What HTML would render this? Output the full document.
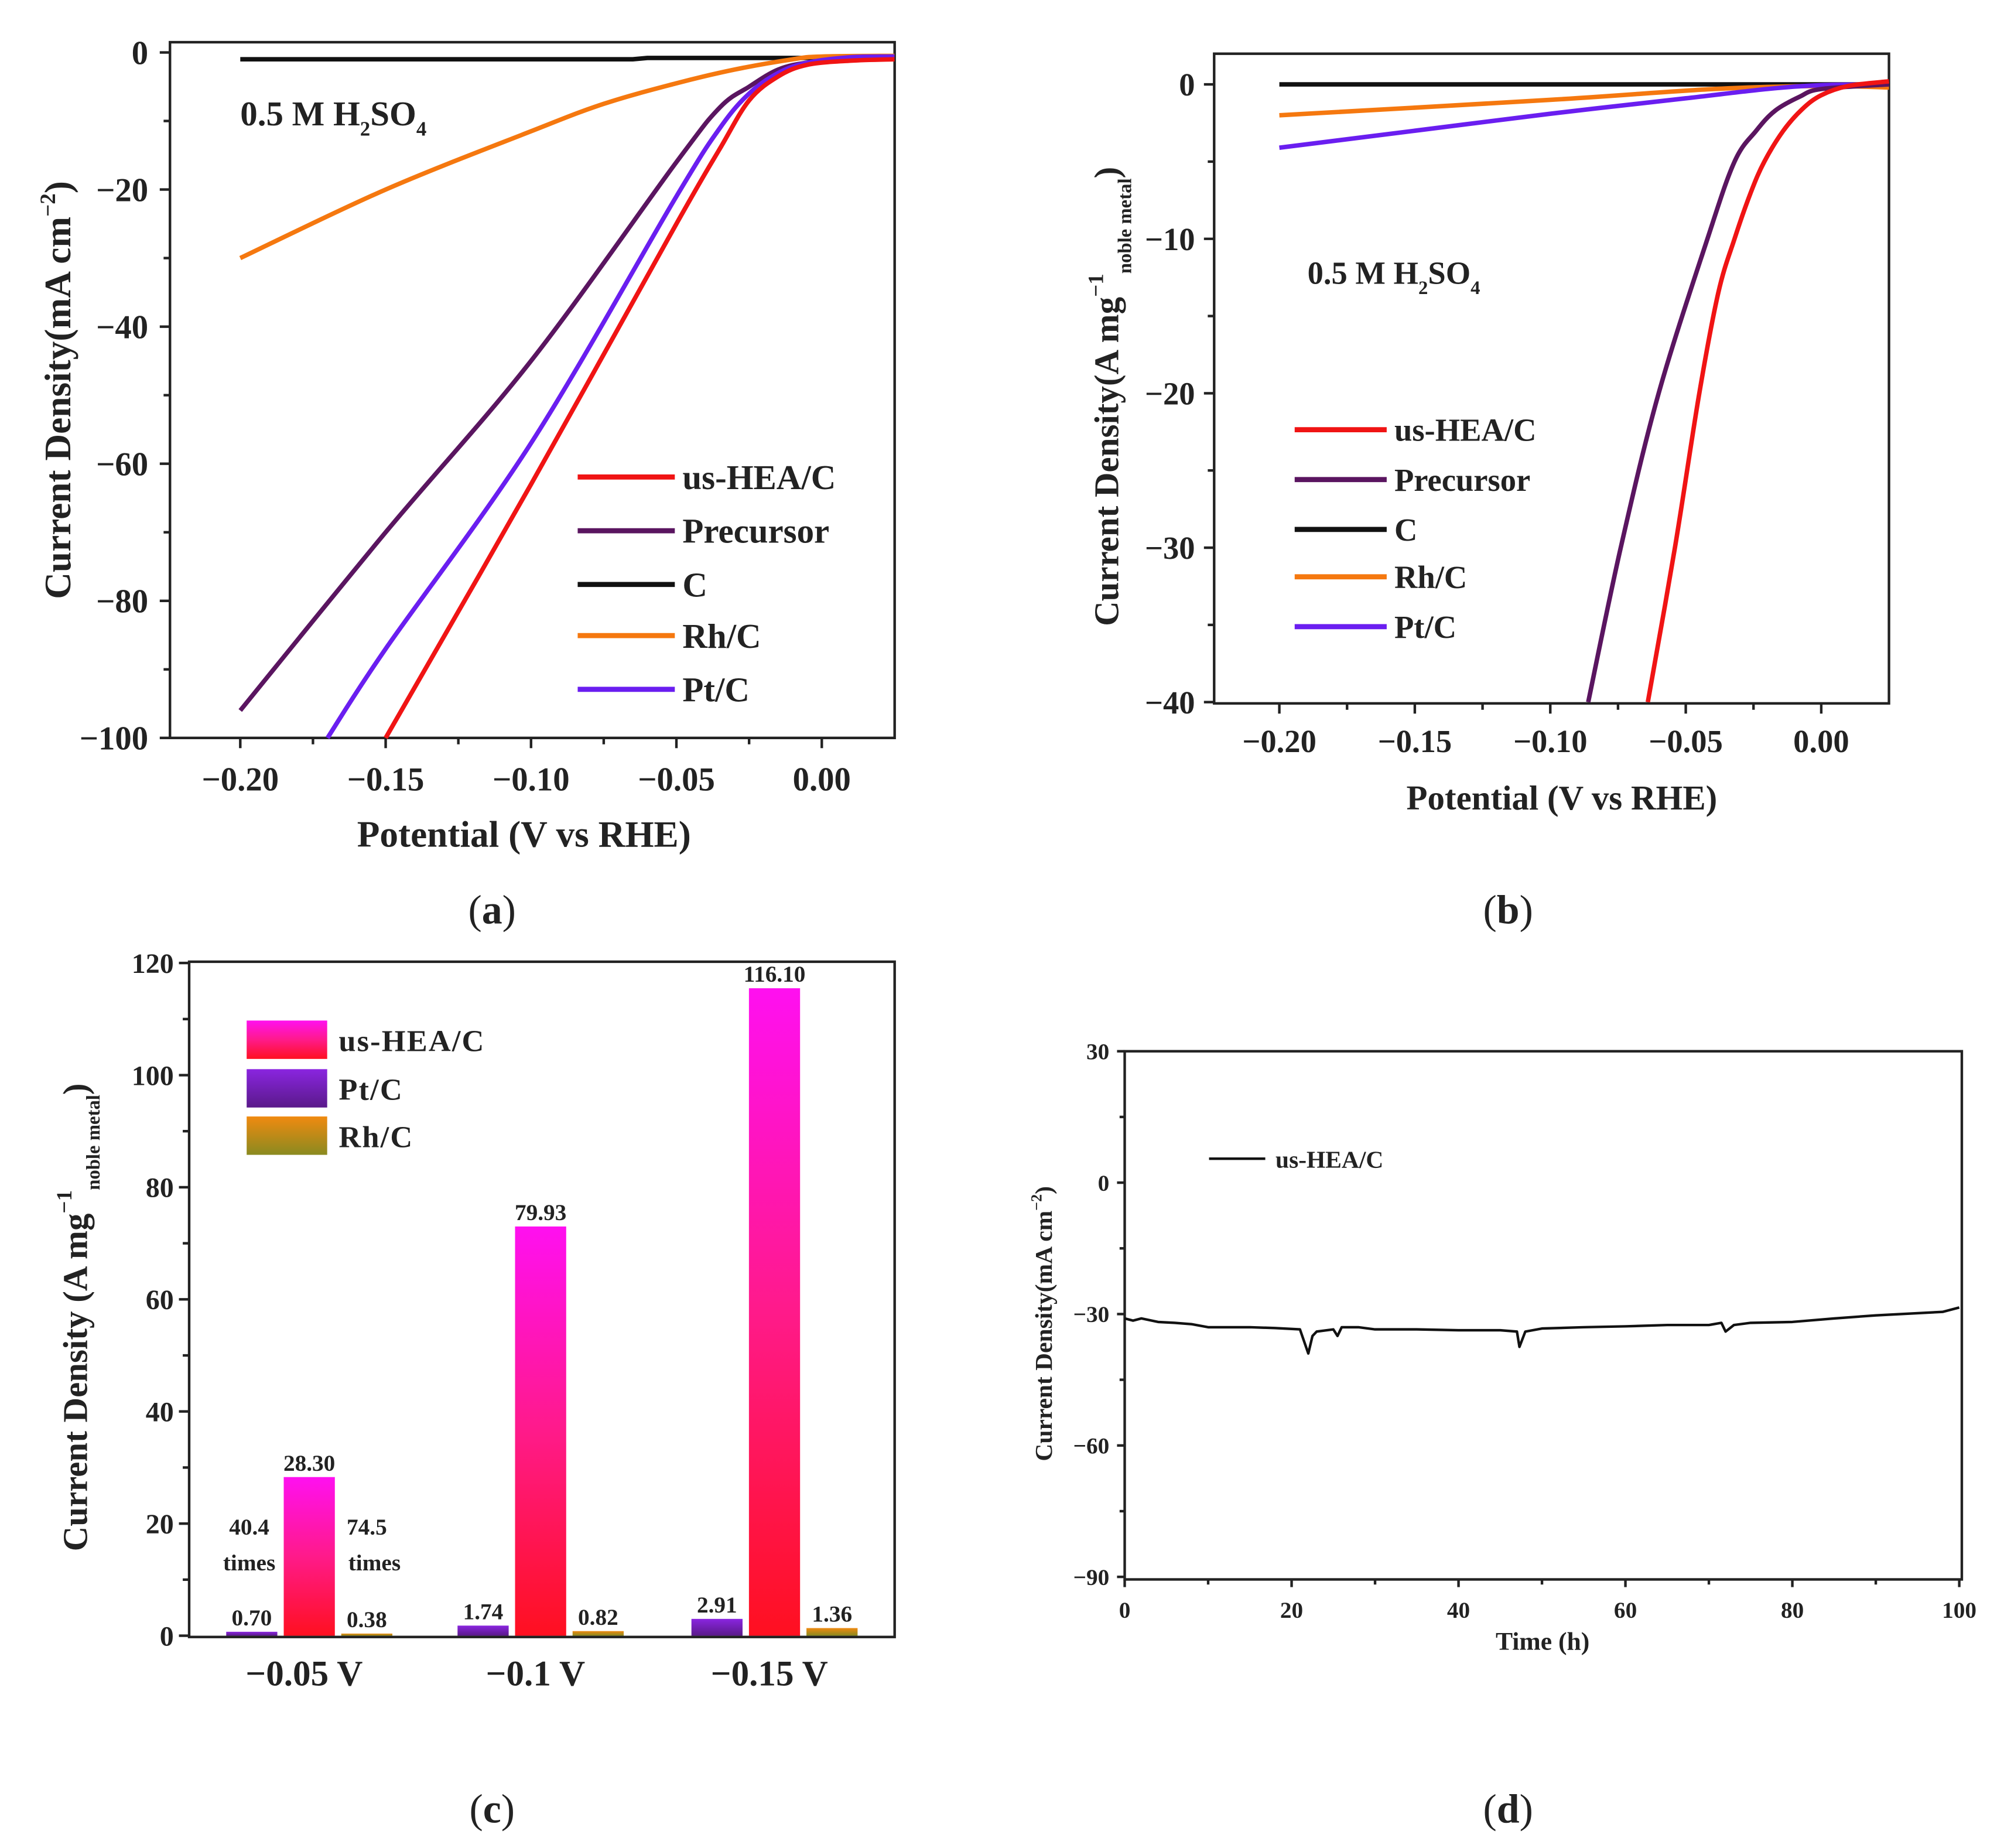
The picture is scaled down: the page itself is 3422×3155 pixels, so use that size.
<!DOCTYPE html>
<html><head><meta charset="utf-8"><title>HER performance charts</title>
<style>
html,body{margin:0;padding:0;background:#fff;}
svg{display:block;}
text{font-family:"Liberation Serif",serif;font-weight:bold;fill:#222;}
</style></head>
<body>
<svg id="fig" width="3422" height="3155" viewBox="0 0 1568 1445" preserveAspectRatio="none" xmlns="http://www.w3.org/2000/svg">
<defs>
<linearGradient id="gHEA" x1="0" y1="0" x2="0" y2="1"><stop offset="0" stop-color="#ff10f0"/><stop offset="0.5" stop-color="#ff1a8a"/><stop offset="1" stop-color="#ff1020"/></linearGradient>
<linearGradient id="gPt" x1="0" y1="0" x2="0" y2="1"><stop offset="0" stop-color="#8a25e0"/><stop offset="1" stop-color="#5a1a8a"/></linearGradient>
<linearGradient id="gRh" x1="0" y1="0" x2="0" y2="1"><stop offset="0" stop-color="#f08a10"/><stop offset="1" stop-color="#8a8a20"/></linearGradient>
</defs>
<text x="385" y="722" font-size="32" text-anchor="middle" style="font-weight:normal">(<tspan style="font-weight:bold">a</tspan>)</text>
<text x="1180" y="722" font-size="32" text-anchor="middle" style="font-weight:normal">(<tspan style="font-weight:bold">b</tspan>)</text>
<text x="385" y="1425" font-size="32" text-anchor="middle" style="font-weight:normal">(<tspan style="font-weight:bold">c</tspan>)</text>
<text x="1180" y="1425" font-size="32" text-anchor="middle" style="font-weight:normal">(<tspan style="font-weight:bold">d</tspan>)</text>

<text x="188" y="98" font-size="27">0.5 M H<tspan font-size="16" dy="8">2</tspan><tspan dy="-8">SO</tspan><tspan font-size="16" dy="8">4</tspan></text>
<text x="410" y="662" font-size="29" text-anchor="middle">Potential (V vs RHE)</text>
<text transform="translate(55,305) rotate(-90)" font-size="29" text-anchor="middle">Current Density(mA cm<tspan font-size="17" dy="-12">−2</tspan><tspan dy="12">)</tspan></text>

<text x="1023" y="222" font-size="25">0.5 M H<tspan font-size="15" dy="8">2</tspan><tspan dy="-8">SO</tspan><tspan font-size="15" dy="8">4</tspan></text>
<text x="1222" y="633" font-size="27" text-anchor="middle">Potential (V vs RHE)</text>
<text transform="translate(875,310) rotate(-90)" font-size="27" text-anchor="middle">Current Density(A mg<tspan font-size="17" dy="-12">−1</tspan><tspan font-size="15" dy="22">noble metal</tspan><tspan dy="-10">)</tspan></text>

<text transform="translate(68,1030) rotate(-90)" font-size="27" text-anchor="middle">Current Density (A mg<tspan font-size="17" dy="-12">−1</tspan><tspan font-size="15" dy="22">noble metal</tspan><tspan dy="-10">)</tspan></text>

<text x="1207" y="1290" font-size="20" text-anchor="middle">Time (h)</text>
<text transform="translate(823,1035) rotate(-90)" font-size="19" text-anchor="middle">Current Density(mA cm<tspan font-size="12" dy="-8">−2</tspan><tspan dy="8">)</tspan></text>
</svg>
<script>
// ---------- data: panel (a) ----------
const aHeaX=[-0.15,-0.10,-0.05,-0.035,-0.025,-0.015,-0.005,0.01,0.025];
const aHeaY=[-100,-63,-25,-14,-7,-3.5,-1.8,-1.2,-1.0];
const aPreX=[-0.20,-0.15,-0.10,-0.05,-0.035,-0.025,-0.015,-0.005,0.01,0.025];
const aPreY=[-96,-70,-45,-16,-8,-5,-2.5,-1.5,-1,-1];
const aCX=[-0.20,-0.065,-0.06,0.025];
const aCY=[-1,-1,-0.8,-0.8];
const aRhX=[-0.20,-0.15,-0.10,-0.075,-0.05,-0.03,-0.01,0,0.025];
const aRhY=[-30,-20,-11.5,-7.5,-4.5,-2.5,-1,-0.6,-0.5];
const aPtX=[-0.17,-0.15,-0.10,-0.05,-0.035,-0.025,-0.015,-0.005,0.01,0.025];
const aPtY=[-100,-87,-57,-21,-11,-6,-3,-1.5,-0.7,-0.6];
const aXTicks=[-0.20,-0.15,-0.10,-0.05,0.00];
const aXTickLabels=["−0.20","−0.15","−0.10","−0.05","0.00"];
const aYTicks=[0,-20,-40,-60,-80,-100];
const aYTickLabels=["0","−20","−40","−60","−80","−100"];
// ---------- data: panel (b) ----------
const bHeaX=[-0.064,-0.054,-0.045,-0.038,-0.032,-0.026,-0.021,-0.014,-0.007,0,0.01,0.025];
const bHeaY=[-40,-30,-20,-13.5,-10,-7,-5,-3,-1.6,-0.7,-0.1,0.2];
const bPreX=[-0.086,-0.074,-0.060,-0.042,-0.032,-0.024,-0.017,-0.008,0,0.025];
const bPreY=[-40,-30,-20,-10,-5,-3,-1.7,-0.8,-0.3,0];
const bCX=[-0.20,0.025];
const bCY=[0,0];
const bRhX=[-0.20,-0.10,-0.04,0,0.025];
const bRhY=[-2,-1,-0.3,-0.1,-0.2];
const bPtX=[-0.20,-0.15,-0.10,-0.05,-0.02,0,0.025];
const bPtY=[-4.1,-3,-1.9,-0.9,-0.3,-0.05,0];
const bXTicks=[-0.20,-0.15,-0.10,-0.05,0.00];
const bXTickLabels=["−0.20","−0.15","−0.10","−0.05","0.00"];
const bYTicks=[0,-10,-20,-30,-40];
const bYTickLabels=["0","−10","−20","−30","−40"];
// ---------- data: panel (c) ----------
const cCategories=["−0.05 V","−0.1 V","−0.15 V"];
const cPt=[0.7,1.8,3.0];
const cHea=[28.3,73,115.5];
const cRh=[0.38,0.82,1.36];
const cPtLabels=["0.70","1.74","2.91"];
const cHeaLabels=["28.30","79.93","116.10"];
const cRhLabels=["0.38","0.82","1.36"];
const cYTicks=[0,20,40,60,80,100,120];
// ---------- data: panel (d) ----------
const dT=[0,1,2,4,6,8,10,12,15,18,21,22,22.5,23,25,25.5,26,28,30,35,40,45,47,47.3,48,50,55,60,65,70,71.5,72,73,75,80,85,90,95,98,100];
const dJ=[-31,-31.5,-31,-31.8,-32,-32.3,-33,-33,-33,-33.2,-33.5,-39,-35,-34,-33.5,-35,-33,-33,-33.5,-33.5,-33.7,-33.7,-34,-37.5,-34,-33.3,-33,-32.8,-32.5,-32.5,-32,-34,-32.5,-32,-31.8,-31,-30.3,-29.8,-29.5,-28.5];
const dXTicks=[0,20,40,60,80,100];
const dYTicks=[30,0,-30,-60,-90];
const dYTickLabels=["30","0","−30","−60","−90"];

const NS="http://www.w3.org/2000/svg";
const svg=document.getElementById('fig');
function mk(tag,attrs,parent){const e=document.createElementNS(NS,tag);for(const k in attrs)e.setAttribute(k,attrs[k]);(parent||svg).appendChild(e);return e;}
function lin(d0,d1,p0,p1){return v=>p0+(v-d0)*(p1-p0)/(d1-d0);}
function path(xs,ys,sx,sy){return xs.map((x,i)=>(i?'L':'M')+sx(x).toFixed(2)+' '+sy(ys[i]).toFixed(2)).join(' ');}
function smooth(xs,ys,sx,sy){
  const p=xs.map((x,i)=>[sx(x),sy(ys[i])]);
  let d='M'+p[0][0].toFixed(2)+' '+p[0][1].toFixed(2);
  for(let i=0;i<p.length-1;i++){
    const p0=p[i-1]||p[i],p1=p[i],p2=p[i+1],p3=p[i+2]||p2;
    const c1=[p1[0]+(p2[0]-p0[0])/6,p1[1]+(p2[1]-p0[1])/6];
    const c2=[p2[0]-(p3[0]-p1[0])/6,p2[1]-(p3[1]-p1[1])/6];
    d+=' C'+c1[0].toFixed(2)+' '+c1[1].toFixed(2)+' '+c2[0].toFixed(2)+' '+c2[1].toFixed(2)+' '+p2[0].toFixed(2)+' '+p2[1].toFixed(2);
  }
  return d;
}

function frame(x0,y0,x1,y1,name){
  const r=mk('rect',{x:x0,y:y0,width:x1-x0,height:y1-y0,fill:'none',stroke:'#222','stroke-width':2});
  
  
}
function xTick(x,y,len,lab,fs,ly,name){
  const t=mk('line',{x1:x,x2:x,y1:y,y2:y+len,stroke:'#222','stroke-width':2});
  
  
  if(lab!==null){const s=mk('text',{x:x,y:ly,'font-size':fs,'text-anchor':'middle'});s.textContent=lab;
  
  }
}
function yTick(x,y,len,lab,fs,lx,name){
  const t=mk('line',{x1:x,x2:x-len,y1:y,y2:y,stroke:'#222','stroke-width':2});
  
  
  if(lab!==null){const s=mk('text',{x:lx,y:y+fs*0.35,'font-size':fs,'text-anchor':'end'});s.textContent=lab;
  
  }
}
function curve(d,color,name,w){
  const p=mk('path',{d:d,fill:'none',stroke:color,'stroke-width':w||3.5,'stroke-linejoin':'round'});
  
  
}
function legendLine(x0,x1,y,color,label,fs,name){
  const l=mk('line',{x1:x0,x2:x1,y1:y,y2:y,stroke:color,'stroke-width':4});
  
  
  const t=mk('text',{x:x1+6,y:y+fs*0.35,'font-size':fs});t.textContent=label;
  
  
}
const RED='#f01414',PUR='#5a1560',BLK='#111',ORG='#f5780f',BLU='#6a1ef0';

// ---------- panel (a) ----------
{
const sx=lin(-0.20,0,188,643), sy=lin(0,-100,41,577);
frame(133,33,700,577,'a-plot-frame');
aXTicks.forEach((v,i)=>xTick(sx(v),577,8,aXTickLabels[i],26,618,'a-x'));
aXTicks.slice(0,4).forEach(v=>xTick(sx(v+0.025),577,5,null,0,0,'a-x-minor'));
aYTicks.forEach((v,i)=>yTick(133,sy(v),8,aYTickLabels[i],26,116,'a-y'));
aYTicks.slice(0,5).forEach(v=>yTick(133,sy(v-10),5,null,0,0,'a-y-minor'));
curve(path(aCX,aCY,sx,sy),BLK,'a-line-c');
curve(smooth(aRhX,aRhY,sx,sy),ORG,'a-line-rh-c');
curve(smooth(aPreX,aPreY,sx,sy),PUR,'a-line-precursor');
curve(smooth(aPtX,aPtY,sx,sy),BLU,'a-line-pt-c');
curve(smooth(aHeaX,aHeaY,sx,sy),RED,'a-line-us-hea-c');
legendLine(452,528,373,RED,'us-HEA/C',27,'a-legend-us-hea-c');
legendLine(452,528,415,PUR,'Precursor',27,'a-legend-precursor');
legendLine(452,528,457,BLK,'C',27,'a-legend-c');
legendLine(452,528,497,ORG,'Rh/C',27,'a-legend-rh-c');
legendLine(452,528,539,BLU,'Pt/C',27,'a-legend-pt-c');
}
// ---------- panel (b) ----------
{
const sx=lin(-0.20,0,1001,1425), sy=lin(0,-40,66,549);
frame(950,42,1478,550,'b-plot-frame');
bXTicks.forEach((v,i)=>xTick(sx(v),550,8,bXTickLabels[i],25,588,'b-x'));
bXTicks.slice(0,4).forEach(v=>xTick(sx(v+0.025),550,5,null,0,0,'b-x-minor'));
bYTicks.forEach((v,i)=>yTick(950,sy(v),8,bYTickLabels[i],25,935,'b-y'));
bYTicks.slice(0,4).forEach(v=>yTick(950,sy(v-5),5,null,0,0,'b-y-minor'));
curve(path(bCX,bCY,sx,sy),BLK,'b-line-c');
curve(smooth(bRhX,bRhY,sx,sy),ORG,'b-line-rh-c');
curve(smooth(bPtX,bPtY,sx,sy),BLU,'b-line-pt-c');
curve(smooth(bPreX,bPreY,sx,sy),PUR,'b-line-precursor');
curve(smooth(bHeaX,bHeaY,sx,sy),RED,'b-line-us-hea-c');
legendLine(1013,1085,336,RED,'us-HEA/C',25,'b-legend-us-hea-c');
legendLine(1013,1085,375,PUR,'Precursor',25,'b-legend-precursor');
legendLine(1013,1085,414,BLK,'C',25,'b-legend-c');
legendLine(1013,1085,451,ORG,'Rh/C',25,'b-legend-rh-c');
legendLine(1013,1085,490,BLU,'Pt/C',25,'b-legend-pt-c');
}
// ---------- panel (c) ----------
{
const sy=lin(0,120,1279,753);
const centers=[242,423,606];
frame(148,752,700,1280,'c-plot-frame');
cYTicks.forEach(v=>yTick(148,sy(v),8,String(v),22,136,'c-y'));
cYTicks.slice(0,6).forEach(v=>yTick(148,sy(v+10),5,null,0,0,'c-y-minor'));
function bar(cx,v,fill,name,lab,fs){
  const y=sy(v);
  const r=mk('rect',{x:cx-20,y:y,width:40,height:1279-y,fill:fill});
  
  
  const t=mk('text',{x:cx,y:y-5,'font-size':fs,'text-anchor':'middle'});t.textContent=lab;
  
  
}
cCategories.forEach((c,i)=>{
  const cx=centers[i];
  bar(cx-45,cPt[i],'url(#gPt)','c-bar-pt-c-'+i,cPtLabels[i],18);
  bar(cx,cHea[i],'url(#gHEA)','c-bar-us-hea-c-'+i,cHeaLabels[i],18);
  bar(cx+45,cRh[i],'url(#gRh)','c-bar-rh-c-'+i,cRhLabels[i],18);
  const t=mk('text',{x:cx-4,y:1318,'font-size':28,'text-anchor':'middle'});t.textContent=c;
  
  
});
[['40.4',195,1200],['times',195,1228],['74.5',287,1200],['times',293,1228]].forEach(a=>{
  const t=mk('text',{x:a[1],y:a[2],'font-size':18,'text-anchor':'middle'});t.textContent=a[0];
  
  
});
[['url(#gHEA)','us-HEA/C',798],['url(#gPt)','Pt/C',836],['url(#gRh)','Rh/C',873]].forEach((a,i)=>{
  const r=mk('rect',{x:193,y:a[2],width:63,height:30,fill:a[0]});
  
  
  const t=mk('text',{x:265,y:a[2]+24,'font-size':24,'letter-spacing':'1'});t.textContent=a[1];
  
  
});
}
// ---------- panel (d) ----------
{
const sx=lin(0,100,880,1533), sy=lin(30,-90,822,1233);
frame(880,822,1535,1235,'d-plot-frame');
dXTicks.forEach(v=>xTick(sx(v),1235,6,String(v),18,1265,'d-x'));
dXTicks.slice(0,5).forEach(v=>xTick(sx(v+10),1235,4,null,0,0,'d-x-minor'));
dYTicks.forEach((v,i)=>yTick(880,sy(v),6,dYTickLabels[i],18,868,'d-y'));
dYTicks.slice(0,4).forEach(v=>yTick(880,sy(v-15),4,null,0,0,'d-y-minor'));
curve(path(dT,dJ,sx,sy),'#111','d-line-us-hea-c',2);
const l=mk('line',{x1:946,x2:990,y1:906,y2:906,stroke:'#111','stroke-width':2});


const t=mk('text',{x:998,y:913,'font-size':19});t.textContent='us-HEA/C';


}
</script>
</body></html>
